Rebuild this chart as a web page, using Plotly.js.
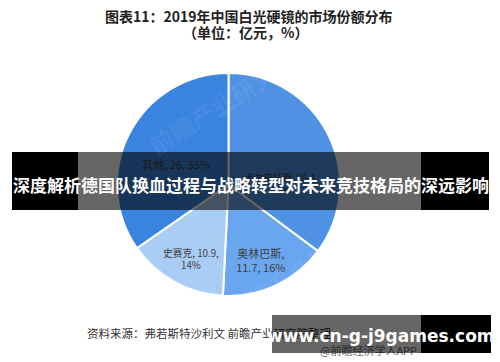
<!DOCTYPE html>
<html>
<head>
<meta charset="utf-8">
<script src="https://cdn.plot.ly/plotly-3.0.1.min.js"></script>
<style>
  html, body { margin: 0; padding: 0; background: #fff; }
  #chart { width: 500px; height: 362px; }
</style>
</head>
<body>
<div id="chart"></div>
<script>
// 2019 China white-light rigid endoscope market share (100M CNY)
const companies = ['卡尔史托斯', '奥林巴斯', '史赛克', '其他'];
const revenue = [26.4, 11.7, 10.9, 26];
const sharePct = [35, 16, 14, 35];
const sliceColors = ['#4f92e4', '#69a6ef', '#aacdf6', '#3a84df'];
// leading spacer lines push each label a little further down in its slice
const labelTemplates = [
  '&nbsp;<br>&nbsp;<br>&nbsp;<br>&nbsp;<br>%{label}, %{value},<br>%{customdata}%',
  '&nbsp;<br>%{label},<br>%{value}, %{customdata}%',
  '&nbsp;<br>%{label}, %{value},<br>%{customdata}%',
  '&nbsp;<br>%{label}, %{value}, %{customdata}%'
];

const W = 500, H = 362;
const cx = 228.5, cy = 184.5, r = 111.5;

const trace = {
  type: 'pie',
  labels: companies,
  values: revenue,
  customdata: sharePct,
  texttemplate: labelTemplates,
  textposition: 'inside',
  insidetextorientation: 'horizontal',
  textfont: { family: 'Noto Sans CJK SC, sans-serif', size: 11, color: '#404040' },
  marker: { colors: sliceColors, line: { color: '#ffffff', width: 2 } },
  sort: false,
  direction: 'clockwise',
  rotation: 0,
  hoverinfo: 'none',
  domain: {
    x: [(cx - r) / W, (cx + r) / W],
    y: [(H - cy - r) / H, (H - cy + r) / H]
  }
};

const px = v => v / W;
const py = v => 1 - v / H;

function note(text, x, y, font, extra) {
  return Object.assign({
    text: text, xref: 'paper', yref: 'paper', x: px(x), y: py(y),
    xanchor: 'center', yanchor: 'middle', showarrow: false, font: font
  }, extra || {});
}

// solid/translucent panels drawn as annotations so they stack over earlier text
function panel(x0, x1, y0, y1, color) {
  return {
    text: ' ', xref: 'paper', yref: 'paper', x: px(x0), y: py(y0),
    xanchor: 'left', yanchor: 'top', showarrow: false,
    width: x1 - x0, height: y1 - y0, bgcolor: color, borderpad: 0, borderwidth: 0
  };
}

const cjk = 'Noto Sans CJK SC, sans-serif';

const layout = {
  width: W, height: H,
  margin: { l: 0, r: 0, t: 0, b: 0 },
  paper_bgcolor: '#ffffff',
  showlegend: false,
  font: { family: cjk },
  shapes: [
    // headline banner
    { type: 'rect', xref: 'paper', yref: 'paper', x0: px(12), x1: px(78), y0: py(210), y1: py(152), fillcolor: '#000', line: { width: 0 } },
    { type: 'rect', xref: 'paper', yref: 'paper', x0: px(78), x1: px(421), y0: py(210), y1: py(152), fillcolor: 'rgba(0,0,0,0.6)', line: { width: 0 } },
    { type: 'rect', xref: 'paper', yref: 'paper', x0: px(421), x1: px(489), y0: py(210), y1: py(152), fillcolor: '#000', line: { width: 0 } }
  ],
  annotations: [
    // faint publisher watermarks
    note('<b>前瞻产业研究院</b>', 222, 102, { family: cjk, size: 24, color: 'rgba(255,255,255,0.08)' }, { textangle: -32 }),
    note('<b>前瞻产业研究院</b>', 300, 268, { family: cjk, size: 24, color: 'rgba(255,255,255,0.08)' }, { textangle: -32 }),

    note('<b>图表11：2019年中国白光硬镜的市场份额分布</b>', 249, 16, { family: cjk, size: 14, color: '#222' }),
    note('<b>（单位：亿元，%）</b>', 245, 32, { family: cjk, size: 14, color: '#222' }),
    note('资料来源：弗若斯特沙利文 前瞻产业研究院整理', 85, 333, { family: cjk, size: 11.5, color: '#333' }, { xanchor: 'left' }),
    note('@前瞻经济学人APP', 318, 350, { family: cjk, size: 11, color: '#666' }, { xanchor: 'left' }),

    // site badge
    panel(272, 421, 315, 353, 'rgba(0,0,0,0.6)'),
    panel(421, 491, 315, 353, '#000'),
    note('<b>www.cn-g-j9games.com</b>', 381, 336, { family: 'DejaVu Sans, sans-serif', size: 17, color: '#fff' }),

    note('<b>深度解析德国队换血过程与战略转型对未来竞技格局的深远影响</b>', 250.5, 184, { family: cjk, size: 17, color: '#fff' })
  ]
};

Plotly.newPlot('chart', [trace], layout, { displayModeBar: false, staticPlot: true });
</script>
</body>
</html>
